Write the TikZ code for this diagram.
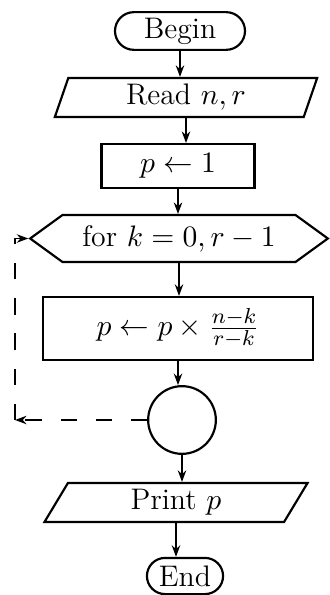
\documentclass[tikz,border=0pt]{standalone}
\usepackage{amsmath,amssymb}
\usepackage{tikz}
\usetikzlibrary{arrows.meta,positioning,calc,shapes.misc,shapes.geometric,shapes.symbols}

\begin{document}
\begin{tikzpicture}[
  x=0.13mm,y=-0.13mm,
  font=\fontsize{11}{13}\selectfont,
  term/.style={draw,thick,rounded rectangle,inner sep=0pt,minimum height=4.9mm},
  io/.style={draw,thick,trapezium,trapezium stretches body,inner sep=0pt,minimum height=5.07mm},
  block/.style={draw,thick,rectangle,inner sep=0pt},
  loopbox/.style={draw,thick,signal,signal to=west and east,signal pointer angle=72,inner sep=0pt},
  flow/.style={-{Stealth[length=1.5mm,width=1.1mm]},semithick},
  back/.style={flow,dash pattern=on 6pt off 7pt}
]
\useasboundingbox (0,0) rectangle (329,595);
\node[term,minimum width=16.9mm] (begin) at (180,31) {Begin};
\node[io,trapezium left angle=63,trapezium right angle=117,minimum width=34.1mm] (read) at (186,97.5) {Read $n,r$};
\node[block,minimum width=19.9mm,minimum height=5.7mm] (init) at (178,166) {$p\leftarrow 1$};
\node[loopbox,minimum width=38.7mm,minimum height=6.1mm] (for) at (179,238.5) {for $k=0,r-1$};
\node[block,minimum width=35.1mm,minimum height=8.2mm] (step) at (178,328.5) {$p\leftarrow p\times\frac{n-k}{r-k}$};
\node[draw,thick,circle,minimum size=8.8mm,inner sep=0pt] (join) at (182,420) {};
\node[io,trapezium left angle=48,trapezium right angle=132,minimum width=34.2mm] (print) at (176,502.5) {Print $p$};
\node[term,minimum width=9.9mm,minimum height=4.7mm] (end) at (185,576) {End};
\draw[flow] (begin) -- (begin |- read.north);
\draw[flow] (read) -- (read |- init.north);
\draw[flow] (init) -- (init |- for.north);
\draw[flow] (for) -- (for |- step.north);
\draw[flow] (step) -- (step |- join.north);
\draw[flow] (join) -- (join |- print.north);
\draw[flow] (print) -- (print |- end.north);
% loop back to the for test
\coordinate (corner) at (15,420);
\draw[back] (join.west) -- (corner);
\draw[back] (corner) |- (for.west);
\end{tikzpicture}
\end{document}
